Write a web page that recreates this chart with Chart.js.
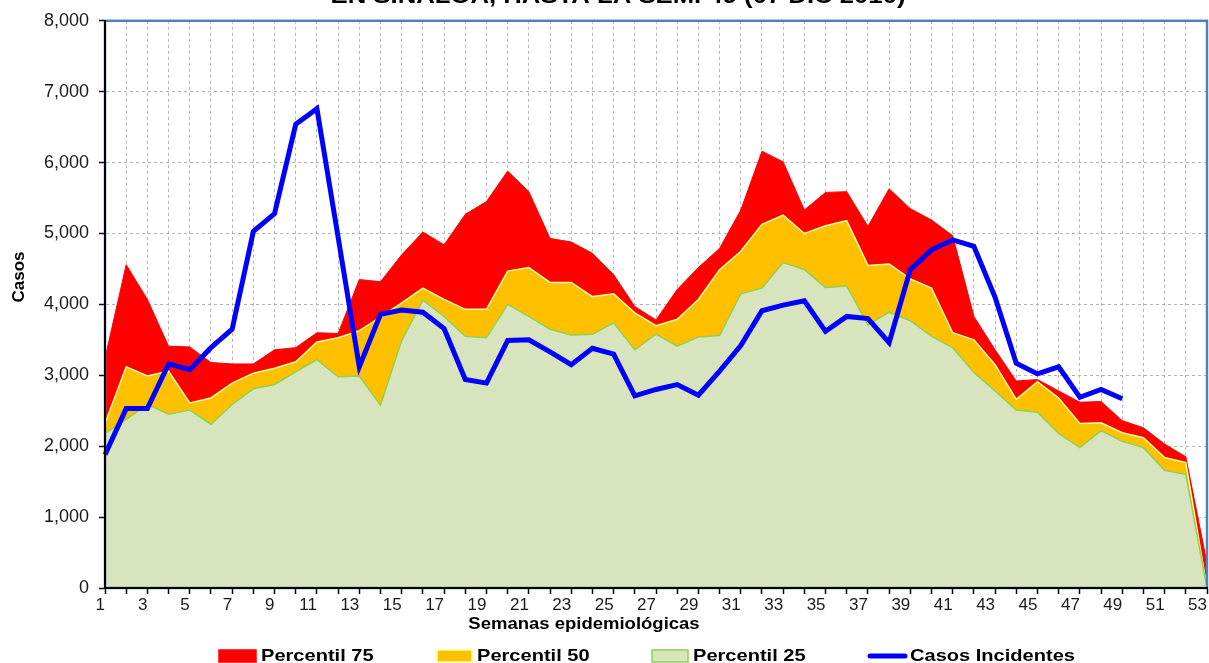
<!DOCTYPE html>
<html lang="es">
<head>
<meta charset="utf-8">
<title>Casos incidentes y canal endémico — Sinaloa 2010</title>
<script src="https://cdn.jsdelivr.net/npm/chart.js@4.4.1/dist/chart.umd.min.js"></script>
<style>
  html, body { margin: 0; padding: 0; background: #fff; overflow: hidden; }
  #wrap { width: 1209px; height: 663px; }
</style>
</head>
<body>
<div id="wrap"><canvas id="chart" width="1209" height="663"></canvas></div>
<script>
'use strict';

// ── DATA ────────────────────────────────────────────────────────────────────
const WEEKS = [
  '1', '2', '3', '4', '5', '6', '7', '8', '9', '10',
  '11', '12', '13', '14', '15', '16', '17', '18', '19', '20',
  '21', '22', '23', '24', '25', '26', '27', '28', '29', '30',
  '31', '32', '33', '34', '35', '36', '37', '38', '39', '40',
  '41', '42', '43', '44', '45', '46', '47', '48', '49', '50',
  '51', '52', '53',
];

const P75 = [
  3240, 4560, 4070, 3410, 3400, 3180, 3160, 3160, 3360, 3390,
  3600, 3590, 4350, 4320, 4700, 5020, 4840, 5270, 5450, 5880,
  5590, 4930, 4880, 4720, 4420, 3970, 3780, 4210, 4520, 4790,
  5330, 6160, 6010, 5330, 5580, 5590, 5100, 5630, 5350, 5190,
  4970, 3830, 3360, 2920, 2940, 2780, 2620, 2630, 2360, 2260,
  2030, 1850, 350,
];

const P50 = [
  2320, 3120, 2990, 3060, 2610, 2680, 2890, 3030, 3100, 3190,
  3470, 3530, 3630, 3820, 4020, 4230, 4070, 3930, 3930, 4470,
  4520, 4310, 4310, 4110, 4150, 3880, 3700, 3790, 4070, 4490,
  4750, 5130, 5260, 5000, 5110, 5180, 4550, 4570, 4360, 4230,
  3600, 3500, 3150, 2660, 2910, 2680, 2320, 2330, 2190, 2120,
  1840, 1770, 0,
];

const P25 = [
  2180, 2380, 2590, 2450, 2510, 2310, 2590, 2810, 2870, 3050,
  3220, 2980, 2990, 2580, 3490, 4060, 3830, 3550, 3530, 4000,
  3830, 3650, 3570, 3580, 3740, 3360, 3580, 3410, 3540, 3560,
  4150, 4230, 4590, 4490, 4240, 4260, 3710, 3890, 3770, 3550,
  3390, 3040, 2780, 2510, 2480, 2180, 1980, 2220, 2070, 1980,
  1660, 1600, 0,
];

// Reported weekly cases, up to week 49
const CASOS = [
  1880, 2530, 2530, 3160, 3080, 3390, 3650, 5030, 5280, 6540,
  6760, 4950, 3120, 3860, 3920, 3890, 3660, 2940, 2890, 3490,
  3500, 3330, 3150, 3380, 3300, 2710, 2800, 2870, 2720, 3060,
  3420, 3910, 3990, 4050, 3620, 3830, 3800, 3460, 4490, 4770,
  4910, 4820, 4100, 3170, 3020, 3120, 2690, 2800, 2670,
];

const Y_MIN = 0;
const Y_MAX = 8000;
const Y_STEP = 1000;

const TITLE   = 'EN SINALOA, HASTA LA SEM. 49 (07 DIC 2010)';
const X_TITLE = 'Semanas epidemiológicas';
const Y_TITLE = 'Casos';

// ── STYLE ───────────────────────────────────────────────────────────────────
const COLORS = {
  p75: '#FF0000',
  p50: '#FFC000',
  p50Line: '#FFFF99',
  p25: '#D7E4BD',
  p25Line: '#92D050',
  casos: '#0000FF',
  frame: '#4F81BD',
  grid: '#b4b4b4',
  text: '#000000',
};

Chart.defaults.font.family = 'Arial, "Liberation Sans", Helvetica, sans-serif';
Chart.defaults.color = '#1a1a1a';

// Text drawn a little wider than tall, like the source picture
function stretchedText(ctx, text, x, y, font, sx, align) {
  ctx.save();
  ctx.font = font;
  ctx.fillStyle = COLORS.text;
  ctx.textBaseline = 'alphabetic';
  ctx.translate(x, y);
  ctx.scale(sx, 1);
  ctx.textAlign = align || 'left';
  ctx.fillText(text, 0, 0);
  ctx.restore();
}

// Plot frame, titles and legend
const decorPlugin = {
  id: 'decor',
  afterDatasetsDraw(chart) {
    const { ctx, chartArea: a } = chart;
    ctx.save();
    ctx.strokeStyle = COLORS.frame;
    ctx.lineWidth = 2.5;
    ctx.strokeRect(a.left, a.top, a.right - a.left, a.bottom - a.top);
    ctx.restore();
  },
  afterDraw(chart) {
    const { ctx } = chart;
    const ds = chart.data.datasets;

    stretchedText(ctx, TITLE, 618, 3, 'bold 21.6px Arial, "Liberation Sans", sans-serif', 1.19, 'center');
    stretchedText(ctx, X_TITLE, 584, 629, 'bold 16px Arial, "Liberation Sans", sans-serif', 1.156, 'center');

    ctx.save();
    ctx.font = 'bold 17px Arial, "Liberation Sans", sans-serif';
    ctx.fillStyle = COLORS.text;
    ctx.translate(24, 277);
    ctx.rotate(-Math.PI / 2);
    ctx.textAlign = 'center';
    ctx.textBaseline = 'alphabetic';
    ctx.fillText(Y_TITLE, 0, 0);
    ctx.restore();

    // legend
    const items = [
      { i: 0, x: 219, w: 37, tx: 261 },
      { i: 1, x: 437, w: 35, tx: 477 },
      { i: 2, x: 652, w: 36, tx: 693 },
      { i: 3, x: 868, w: 39, tx: 910, line: true },
    ];
    const legendFont = 'bold 17px Arial, "Liberation Sans", sans-serif';
    items.forEach(it => {
      const d = ds[it.i];
      ctx.save();
      if (it.line) {
        ctx.strokeStyle = d.borderColor;
        ctx.lineWidth = 5;
        ctx.lineCap = 'round';
        ctx.beginPath();
        ctx.moveTo(it.x + 2, 656);
        ctx.lineTo(it.x + it.w - 2, 656);
        ctx.stroke();
      } else {
        ctx.fillStyle = d.backgroundColor;
        ctx.fillRect(it.x, 650, it.w, 12);
        ctx.strokeStyle = d.borderColor;
        ctx.lineWidth = 1.5;
        ctx.strokeRect(it.x, 650, it.w, 12);
      }
      ctx.restore();
      stretchedText(ctx, d.label, it.tx, 661, legendFont, 1.18, 'left');
    });
  },
};

// ── CHART ───────────────────────────────────────────────────────────────────
const gridStyle = {
  color: COLORS.grid,
  lineWidth: 1,
  tickLength: 6,
  tickColor: '#000',
  tickWidth: 1.5,
  tickBorderDash: [],
};

new Chart(document.getElementById('chart'), {
  type: 'line',
  data: {
    labels: WEEKS,
    datasets: [
      {
        label: 'Percentil 75',
        data: P75,
        backgroundColor: COLORS.p75,
        borderColor: COLORS.p75,
        borderWidth: 1,
        fill: 'origin',
        order: 3,
      },
      {
        label: 'Percentil 50',
        data: P50,
        backgroundColor: COLORS.p50,
        borderColor: COLORS.p50Line,
        borderWidth: 1.5,
        fill: 'origin',
        order: 2,
      },
      {
        label: 'Percentil 25',
        data: P25,
        backgroundColor: COLORS.p25,
        borderColor: COLORS.p25Line,
        borderWidth: 1.5,
        fill: 'origin',
        order: 1,
      },
      {
        label: 'Casos Incidentes',
        data: CASOS,
        borderColor: COLORS.casos,
        backgroundColor: COLORS.casos,
        borderWidth: 5,
        fill: false,
        order: 0,
      },
    ],
  },
  options: {
    responsive: false,
    animation: false,
    devicePixelRatio: 1,
    layout: { padding: { top: 18, right: 2, left: 0, bottom: 0 } },
    elements: {
      point: { radius: 0, hoverRadius: 0 },
      line: { tension: 0 },
    },
    plugins: {
      legend: { display: false },
      tooltip: { enabled: false },
      title: { display: false },
    },
    scales: {
      x: {
        grid: gridStyle,
        border: { color: '#000', width: 2, dash: [3, 3], z: 1 },
        ticks: {
          autoSkip: false,
          maxRotation: 0,
          align: 'end',
          padding: 1,
          color: '#1a1a1a',
          font: { size: 17 },
          callback: (v, i) => (i % 2 === 0 ? WEEKS[i] : ''),
        },
        afterFit: s => { s.height = 75; },
      },
      y: {
        min: Y_MIN,
        max: Y_MAX,
        grid: gridStyle,
        border: { color: '#000', width: 2, dash: [3, 3], z: 1 },
        ticks: {
          stepSize: Y_STEP,
          padding: 10,
          color: '#1a1a1a',
          font: { size: 18 },
          callback: v => v.toLocaleString('en-US'),
        },
        afterFit: s => { s.width = 105; },
      },
    },
  },
  plugins: [decorPlugin],
});
</script>
</body>
</html>
